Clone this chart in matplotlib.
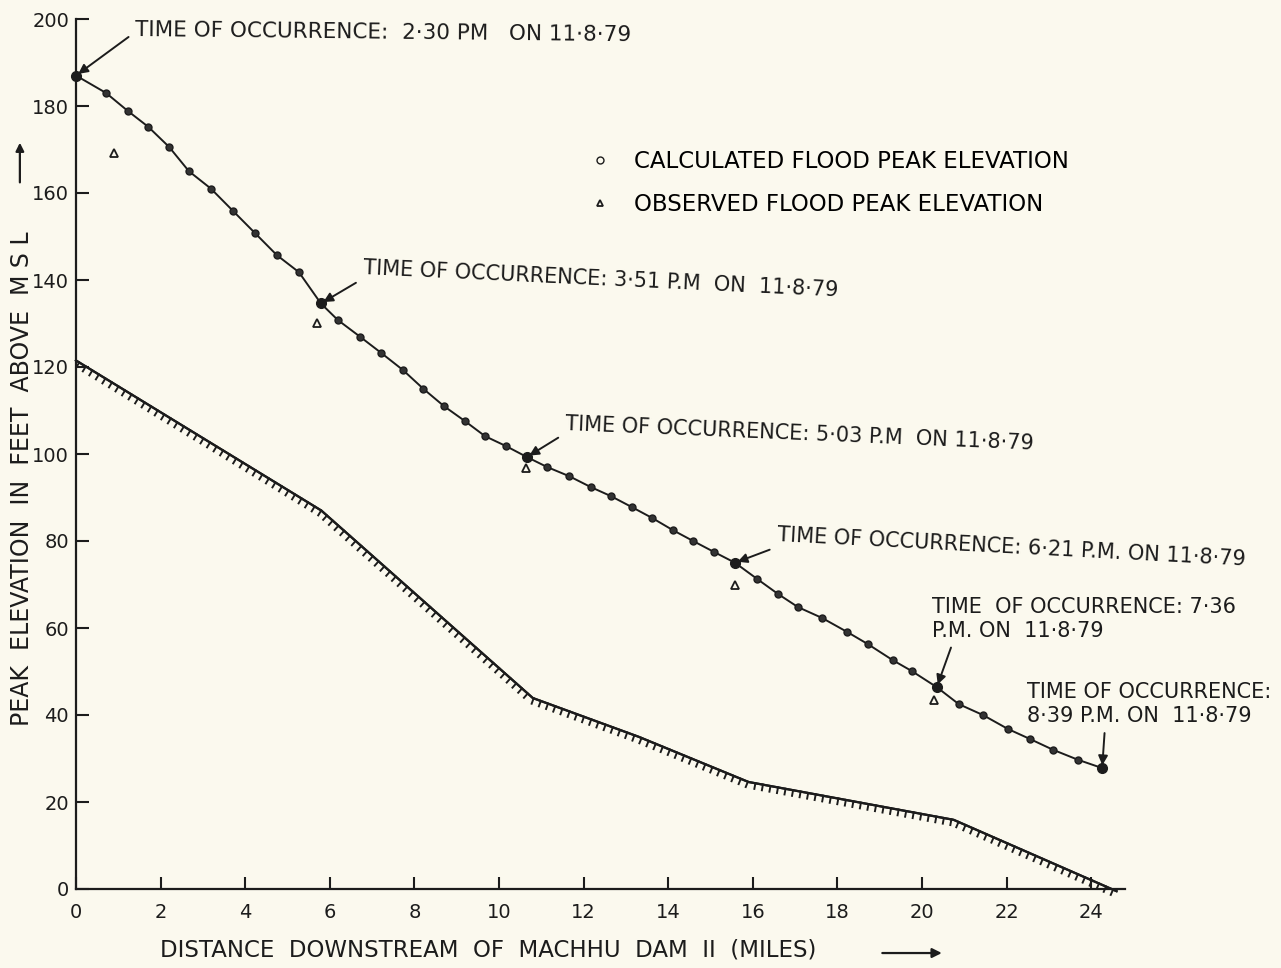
import numpy as np
import matplotlib
matplotlib.use("Agg")
import matplotlib.pyplot as plt
import matplotlib.patheffects as pe

# calculated flood peak elevation (miles, ft above MSL)
calc_x = [0.0, 0.71, 1.22, 1.71, 2.20, 2.67, 3.19, 3.71, 4.23, 4.75, 5.27, 5.79,
          6.19, 6.71, 7.22, 7.73, 8.21, 8.70, 9.19, 9.67, 10.17, 10.66,
          11.14, 11.66, 12.17, 12.65, 13.14, 13.62, 14.11, 14.59, 15.08, 15.58,
          16.10, 16.60, 17.07, 17.64, 18.23, 18.72, 19.31, 19.76, 20.35,
          20.87, 21.44, 22.03, 22.55, 23.10, 23.69, 24.26]
calc_y = [187.0, 183.0, 178.9, 175.2, 170.6, 165.0, 161.0, 155.9, 150.8, 145.7, 141.8, 134.6,
          130.8, 127.0, 123.2, 119.3, 115.0, 111.0, 107.6, 104.1, 101.8, 99.3,
          97.0, 94.9, 92.4, 90.3, 87.8, 85.3, 82.5, 80.0, 77.5, 75.0,
          71.3, 67.8, 64.8, 62.3, 59.1, 56.3, 52.6, 50.1, 46.4,
          42.5, 40.0, 36.8, 34.5, 32.0, 29.7, 27.8]

# observed flood peak elevation
obs_x = [0.90, 5.70, 10.64, 15.58, 20.28]
obs_y = [169.2, 130.1, 96.8, 69.9, 43.4]

# river bed profile
bed_x = [0.0, 5.80, 10.80, 13.3, 15.90, 20.75, 24.60]
bed_y = [121.5, 87.0, 43.9, 35.0, 24.6, 15.9, -0.5]

# times of occurrence at the marked sections
time_idx = [0, 11, 21, 31, 40, 47]
time_labels = ["TIME OF OCCURRENCE:  2·30 PM   ON 11·8·79",
               "TIME OF OCCURRENCE: 3·51 P.M  ON  11·8·79",
               "TIME OF OCCURRENCE: 5·03 P.M  ON 11·8·79",
               "TIME OF OCCURRENCE: 6·21 P.M. ON 11·8·79",
               "TIME  OF OCCURRENCE: 7·36\nP.M. ON  11·8·79",
               "TIME OF OCCURRENCE:\n8·39 P.M. ON  11·8·79"]
label_pos = [(1.39, 197.5), (6.78, 142.8), (11.56, 106.9), (16.57, 81.4),
             (20.24, 62.1), (22.48, 42.5)]
label_rot = [-0.6, -2.7, -2.4, -3.0, 0, 0]
arrow_rel = [(0, 0.5), (0, 0.5), (0, 0.5), (0, 0.5), (0.07, 0), (0.32, 0)]

x_ticks = np.arange(0, 25, 2)
y_ticks = np.arange(0, 201, 20)

ink = "#1c1c1c"
paper = "#fbf9ee"

fig = plt.figure(figsize=(12.81, 9.68), dpi=100, facecolor=paper)
ax = fig.add_axes([76 / 1281, 79 / 968, 1049 / 1281, 870 / 968])
ax.set_facecolor(paper)

# bed profile with hatch ticks underneath
ax.plot(bed_x, bed_y, color=ink, lw=1.6, clip_on=False,
        path_effects=[pe.withTickedStroke(angle=-90, spacing=5.5, length=0.75,
                                          linewidth=1.4), pe.Normal()])

# calculated peaks
ax.plot(calc_x, calc_y, color=ink, lw=1.4, marker="o", ms=5,
        mfc="#333333", mec=ink, mew=1.0, label="CALCULATED FLOOD PEAK ELEVATION")
ax.plot([calc_x[i] for i in time_idx], [calc_y[i] for i in time_idx],
        ls="none", marker="o", ms=7, color=ink, clip_on=False)

# observed peaks
ax.plot(obs_x, obs_y, ls="none", marker="^", ms=6, mfc="none", mec=ink,
        mew=1.3, label="OBSERVED FLOOD PEAK ELEVATION")

for k, (i, txt, pos, rot, rp) in enumerate(zip(time_idx, time_labels, label_pos,
                                              label_rot, arrow_rel)):
    ax.annotate(txt, xy=(calc_x[i], calc_y[i]), xytext=pos,
                fontsize=15.5 if k == 0 else 15,
                color=ink, ha="left", va="center", rotation=rot,
                rotation_mode="anchor", linespacing=1.25,
                arrowprops=dict(arrowstyle="-|>", color=ink, lw=1.4,
                                mutation_scale=14, relpos=rp,
                                shrinkA=3, shrinkB=2))

ax.set_xlim(0, 24.8)
ax.set_ylim(0, 200)
ax.set_xticks(x_ticks)
ax.set_yticks(y_ticks)
ax.tick_params(direction="in", length=9, width=1.5, labelsize=14,
               colors=ink)
ax.tick_params(axis="x", pad=10)
ax.tick_params(axis="y", pad=5)
for s in ["top", "right"]:
    ax.spines[s].set_visible(False)
for s in ["left", "bottom"]:
    ax.spines[s].set_linewidth(1.6)
    ax.spines[s].set_color(ink)

leg = ax.legend(loc="upper left", bbox_to_anchor=(0.471, 0.873), frameon=False,
                prop={"size": 16.5}, handlelength=0.8, handletextpad=1.1,
                labelspacing=0.85, numpoints=1)
for h in leg.legend_handles:
    h.set_linestyle("none")
    h.set_markersize(5)
    h.set_markerfacecolor("none")

ax.text(0.080, -0.070, "DISTANCE  DOWNSTREAM  OF  MACHHU  DAM  II  (MILES)",
        transform=ax.transAxes, fontsize=16.5, color=ink, ha="left", va="center")
ax.annotate("", xy=(0.828, -0.0736), xytext=(0.766, -0.0736),
            xycoords="axes fraction", textcoords="axes fraction",
            arrowprops=dict(arrowstyle="-|>", color=ink, lw=1.6, mutation_scale=14))
ax.text(-0.0515, 0.472, "PEAK  ELEVATION  IN  FEET  ABOVE  M S L",
        transform=ax.transAxes, fontsize=17, color=ink, rotation=90,
        ha="center", va="center")
ax.annotate("", xy=(-0.0535, 0.861), xytext=(-0.0535, 0.809),
            xycoords="axes fraction", textcoords="axes fraction",
            arrowprops=dict(arrowstyle="-|>", color=ink, lw=1.6, mutation_scale=12))

fig.savefig("out.png", dpi=100, facecolor=paper)
